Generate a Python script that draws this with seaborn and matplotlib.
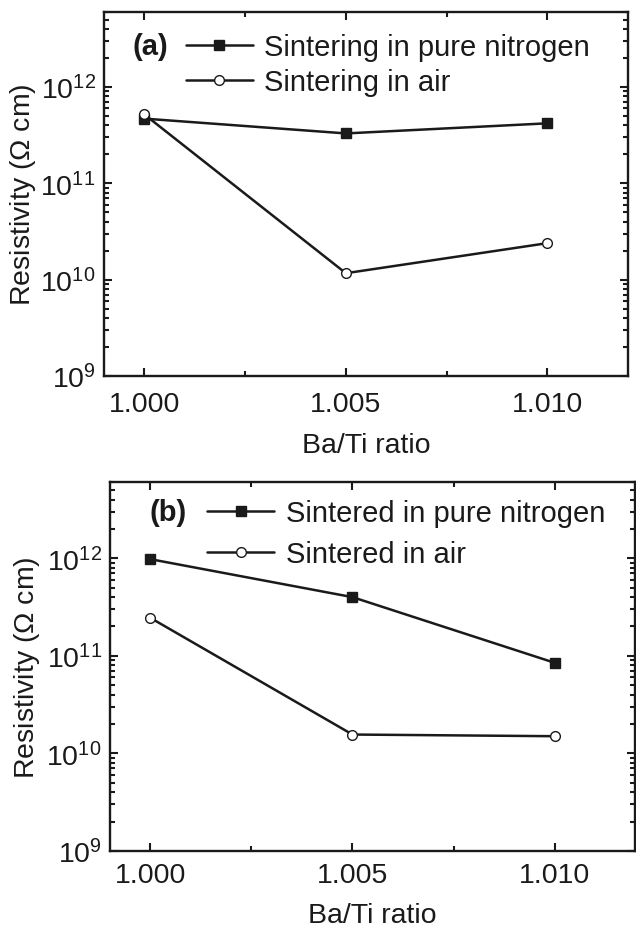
import numpy as np
import pandas as pd
import matplotlib
matplotlib.use("Agg")
import matplotlib.pyplot as plt
import seaborn as sns
from matplotlib.ticker import MultipleLocator, LogLocator, NullFormatter

# data
ba_ti = [1.000, 1.005, 1.010]
nitrogen_a = [4.7e11, 3.3e11, 4.2e11]
air_a = [5.2e11, 1.17e10, 2.4e10]
nitrogen_b = [9.8e11, 4.0e11, 8.5e10]
air_b = [2.45e11, 1.56e10, 1.5e10]

labels_a = ["Sintering in pure nitrogen", "Sintering in air"]
labels_b = ["Sintered in pure nitrogen", "Sintered in air"]

sns.set_theme(style="ticks")
plt.rcParams['font.family'] = ['Liberation Sans', 'DejaVu Sans']
plt.rcParams['mathtext.fontset'] = 'custom'
plt.rcParams['mathtext.rm'] = 'Liberation Sans'
plt.rcParams['mathtext.it'] = 'Liberation Sans:italic'
plt.rcParams['mathtext.bf'] = 'Liberation Sans:bold'
plt.rcParams['text.color'] = 'k'
plt.rcParams['axes.labelcolor'] = 'k'

FS = 20.5


def panel(ax, n_vals, a_vals, labels, tag, leg_xy, tag_xy, spacing, ylab_x, xlab_y, xpad):
    df = pd.DataFrame({"x": ba_ti * 2,
                       "y": n_vals + a_vals,
                       "s": [labels[0]] * 3 + [labels[1]] * 3})
    sns.lineplot(data=df[df.s == labels[0]], x="x", y="y", ax=ax, color="k",
                 lw=1.8, marker="s", ms=6.5, mfc="k", mec="k", mew=1,
                 label=labels[0], legend=False)
    sns.lineplot(data=df[df.s == labels[1]], x="x", y="y", ax=ax, color="k",
                 lw=1.8, marker="o", ms=7, mfc="white", mec="k", mew=1,
                 label=labels[1], legend=False)
    ax.set_yscale("log")
    ax.set_ylim(1e9, 6e12)
    ax.set_xlim(0.999, 1.012)
    ax.set_xticks([1.000, 1.005, 1.010])
    ax.set_xticklabels(["1.000", "1.005", "1.010"])
    ax.xaxis.set_minor_locator(MultipleLocator(0.0025))
    ax.yaxis.set_major_locator(LogLocator(base=10, numticks=10))
    ax.yaxis.set_minor_locator(LogLocator(base=10, subs=np.arange(2, 10), numticks=20))
    ax.yaxis.set_minor_formatter(NullFormatter())
    ax.tick_params(which="both", direction="in", top=True, right=True,
                   labelsize=FS, width=1.5, colors="k")
    ax.tick_params(which="major", length=6)
    ax.tick_params(which="minor", length=3.5)
    ax.tick_params(axis="x", which="major", pad=xpad)
    ax.tick_params(axis="y", which="major", pad=6)
    for sp in ax.spines.values():
        sp.set_linewidth(1.7)
        sp.set_color("k")
    ax.set_xlabel("Ba/Ti ratio", fontsize=FS, color="k")
    ax.set_ylabel("Resistivity ($\\Omega$ cm)", fontsize=FS, color="k")
    ax.yaxis.set_label_coords(ylab_x, 0.5)
    ax.xaxis.set_label_coords(0.5, xlab_y)
    h, l = ax.get_legend_handles_labels()
    ax.legend(h, l, loc="upper left", bbox_to_anchor=leg_xy, frameon=False,
              fontsize=FS + 0.5, handlelength=2.3, handletextpad=0.4,
              labelspacing=spacing, borderpad=0, borderaxespad=0, numpoints=1,
              labelcolor="k")
    ax.text(tag_xy[0], tag_xy[1], tag, transform=ax.transAxes, fontsize=FS + 0.5,
            fontweight="bold", va="center", ha="left", color="k")


fig = plt.figure(figsize=(6.36, 9.29), dpi=100)
ax1 = fig.add_axes([0.1635, 0.594, 0.824, 0.392])
ax2 = fig.add_axes([0.173, 0.083, 0.826, 0.3966])

panel(ax1, nitrogen_a, air_a, labels_a, "(a)", (0.156, 0.941), (0.055, 0.907),
      0.22, -0.126, -0.154, 10.5)
panel(ax2, nitrogen_b, air_b, labels_b, "(b)", (0.185, 0.954), (0.076, 0.92),
      0.44, -0.13, -0.139, 8)

fig.savefig("out.png", dpi=100, facecolor="white")
